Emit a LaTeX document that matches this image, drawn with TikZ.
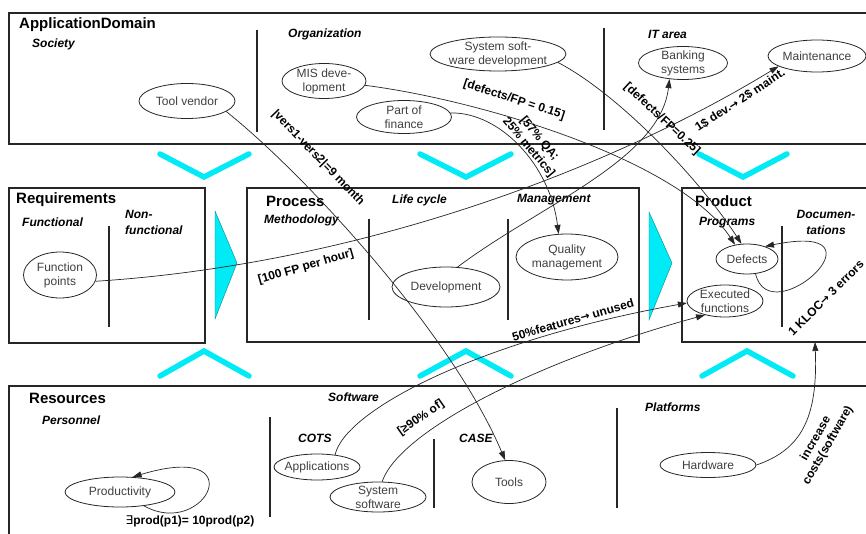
\documentclass[tikz,border=0pt]{standalone}
\usepackage{fontspec}
\setmainfont{Liberation Sans}
\newfontfamily\djv{DejaVu Sans}
\usetikzlibrary{shapes.geometric,arrows.meta}
\definecolor{aqua}{RGB}{0,235,245}
\newcommand\ellN[6]{\node[ell,minimum width=#4,minimum height=#5] (#1) at (#2,#3) {};
  \node[elltxt] (#1-t) at (#1) {#6};}
\newcommand\rarr{{\djv\fontsize{11}{13}\selectfont →}}
\begin{document}
\begin{tikzpicture}[x=1pt,y=-1pt,
  box/.style={draw=black!85,line width=1.5pt},
  divider/.style={draw=black!85,line width=1.6pt},
  ell/.style={ellipse,draw=black!85,line width=0.8pt,inner sep=0pt},
  elltxt/.style={font=\fontsize{12}{14}\selectfont,text=black!75,align=center,inner sep=0pt},
  ttl/.style={font=\bfseries\fontsize{15}{17}\selectfont,anchor=west,inner sep=0pt},
  sub/.style={font=\bfseries\itshape\fontsize{12}{16}\selectfont,anchor=west,inner sep=0pt,align=left},
  lab/.style={font=\bfseries\fontsize{12}{14}\selectfont,align=center,inner sep=0pt},
  conn/.style={draw=black!85,line width=0.7pt,-{Triangle[length=9pt,width=6pt]}},
  chev/.style={draw=aqua,line width=5.5pt,line cap=round},
  tri/.style={fill=aqua,draw=aqua!60!black,line width=0.4pt}]
\path[use as bounding box] (0,0) rectangle (866,534);
\clip (0,0) rectangle (866,534);
\fill[white] (0,0) rectangle (866,534);

% boxes
\draw[box] (9,13) rectangle (880,144);
\draw[box] (9,188) rectangle (205,343);
\draw[box] (247,188) rectangle (639,342);
\draw[box] (682,188) rectangle (880,342);
\draw[box] (9,386) rectangle (880,560);
\coordinate (prodbot) at (815,342);

% dividers
\draw[divider] (257,30) -- (257,132);
\draw[divider] (604,28) -- (604,130);
\draw[divider] (109,226) -- (109,327);
\draw[divider] (369,219) -- (369,320);
\draw[divider] (508,219) -- (508,320);
\draw[divider] (782,226) -- (782,327);
\draw[divider] (270,417) -- (270,517);
\draw[divider] (434,439) -- (434,508);
\draw[divider] (617,408) -- (617,508);

% titles
\node[ttl] (t-app) at (19,25) {ApplicationDomain};
\node[sub] (s-soc) at (32,44) {Society};
\node[sub] (s-org) at (288,34) {Organization};
\node[sub] (s-it) at (648,34) {IT area};
\node[ttl] (t-req) at (16,200) {Requirements};
\node[sub] (s-fun) at (22,222) {Functional};
\node[sub] (s-nf) at (125,222) {Non-\\functional};
\node[ttl] (t-proc) at (266,201) {Process};
\node[sub] (s-meth) at (264,220) {Methodology};
\node[sub] (s-lc) at (392,200) {Life cycle};
\node[sub] (s-man) at (517,200) {Management};
\node[ttl] (t-prod) at (695,201) {Product};
\node[sub] (s-prog) at (699,223) {Programs};
\node[sub,anchor=center,align=center] (s-doc) at (826,222) {Documen-\\tations};
\node[ttl] (t-res) at (29,398) {Resources};
\node[sub] (s-pers) at (42,420) {Personnel};
\node[sub] (s-soft) at (328,397) {Software};
\node[sub] (s-cots) at (298,438) {COTS};
\node[sub] (s-case) at (459,438) {CASE};
\node[sub] (s-plat) at (645,407) {Platforms};

% chevrons and triangles
\draw[chev] (160,154) -- (204,177) -- (249,154);
\draw[chev] (420,154) -- (466,177) -- (511,154);
\draw[chev] (699,154) -- (743,177) -- (787,154);
\draw[chev] (160,376) -- (204,351) -- (249,376);
\draw[chev] (420,376) -- (466,351) -- (511,376);
\draw[chev] (702,376) -- (747,351) -- (793,376);
\draw[tri] (215,211) -- (237,263) -- (215,319) -- cycle;
\draw[tri] (649,212) -- (672,263) -- (649,320) -- cycle;

% ellipses
\ellN{tv}{187}{101}{96}{35}{Tool vendor}
\ellN{mis}{324}{81}{84}{35}{MIS deve-\\lopment}
\ellN{fin}{404}{117}{95}{33}{Part of\\finance}
\ellN{ssd}{498}{54}{136}{34}{System soft-\\ware development}
\ellN{bank}{683}{63}{89}{33}{Banking\\systems}
\ellN{maint}{817}{56}{98}{32}{Maintenance}
\ellN{fp}{60}{275}{73}{46}{Function\\points}
\ellN{dev}{446}{287}{108}{40}{Development}
\ellN{qm}{567}{257}{102}{46}{Quality\\management}
\ellN{def}{747}{259}{62}{30}{Defects}
\ellN{exf}{725}{301}{76}{32}{Executed\\functions}
\ellN{prod}{120}{492}{110}{30}{Productivity}
\ellN{app}{317}{467}{86}{26}{Applications}
\ellN{ssw}{378}{497}{96}{30}{System\\software}
\ellN{tools}{509}{482}{74}{43}{Tools}
\ellN{hw}{708}{465}{96}{25}{Hardware}

% connectors
\draw[conn] (tv.-15) .. controls (300,170) and (450,330) .. (tools.100);
\draw[conn] (mis.-6) .. controls (480,100) and (680,160) .. (def.130);
\draw[conn] (ssd.-8) .. controls (620,95) and (700,180) .. (def.110);
\draw[conn] (fin.5) .. controls (500,112) and (550,165) .. (qm.110);
\draw[conn] (dev.60) .. controls (540,205) and (660,160) .. (bank.-130);
\draw[conn] (fp.-10) .. controls (350,265) and (600,175) .. (maint.-165);
\draw[conn] (app.34) .. controls (345,410) and (480,340) .. (exf.-177);
\draw[conn] (ssw.75) .. controls (400,430) and (540,360) .. (exf.-145);
\draw[conn] (hw.0) .. controls (800,450) and (818,420) .. (prodbot);
\draw[conn] (def.-60) .. controls (770,335) and (895,220) .. (def.35);
\draw[conn] (prod.-30) .. controls (205,540) and (255,440) .. (prod.50);

% labels
\node[lab,rotate=-46] (l1) at (318,158) {|vers1-vers2|=9 month};
\node[lab,rotate=-18] (l2) at (514,100) {[defects/FP = 0.15]};
\node[lab,rotate=-50] (l3) at (534,143) {[57\% QA;\\25\% metrics]};
\node[lab,rotate=-43] (l4) at (662,119) {[defects/FP=0.25]};
\node[lab,rotate=33] (l5) at (740,100) {1\$ dev.\rarr\ 2\$ maint.};
\node[lab,rotate=16] (l6) at (306,267) {[100 FP per hour]};
\node[lab,rotate=16] (l7) at (573,320) {50\%features\rarr\ unused};
\node[lab,rotate=35] (l8) at (421,418) {[≥90\% of]};
\node[lab,rotate=45] (l9) at (826,298) {1 KLOC\rarr\ 3 errors};
\node[lab,rotate=60] (l10) at (822,442) {increase\\costs(software)};
\node[lab] (l11) at (190,521) {{\djv\mdseries ∃}prod(p1)= 10prod(p2)};
\end{tikzpicture}
\end{document}
